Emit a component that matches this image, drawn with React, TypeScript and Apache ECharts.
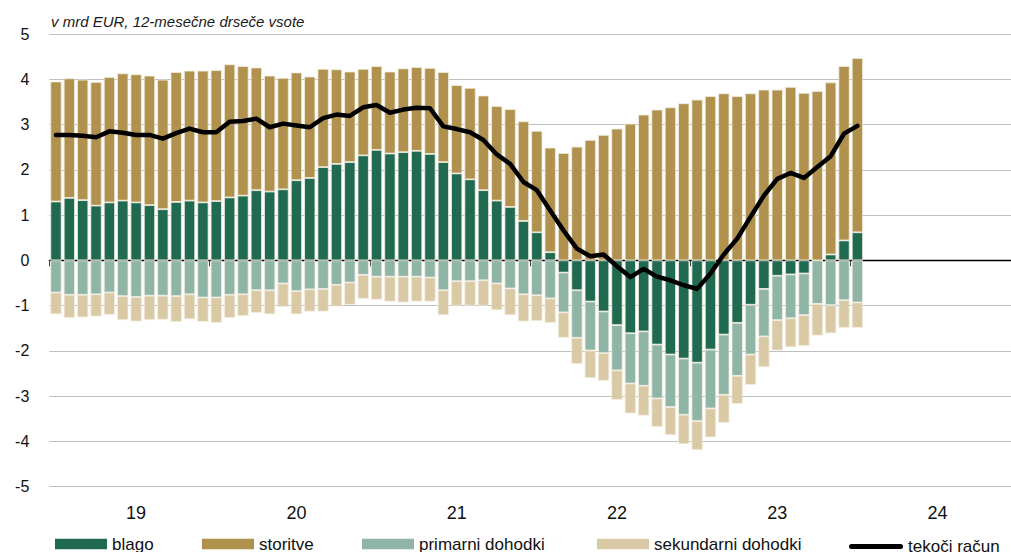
import React, { useEffect, useRef } from 'react';
import * as echarts from 'echarts';

const yearLabels = ['19', '20', '21', '22', '23', '24'];
const monthCodes = ['01', '02', '03', '04', '05', '06', '07', '08', '09', '10', '11', '12'];
const categories = yearLabels.flatMap((y) => monthCodes.map((m) => `20${y}-${m}`));

const blago = [
  1.30, 1.38, 1.33, 1.21, 1.28, 1.32, 1.28, 1.22, 1.13, 1.29, 1.32, 1.28,
  1.31, 1.39, 1.43, 1.55, 1.52, 1.57, 1.77, 1.82, 2.06, 2.13, 2.17, 2.32,
  2.44, 2.36, 2.39, 2.42, 2.35, 2.17, 1.92, 1.79, 1.55, 1.32, 1.18, 0.87,
  0.62, 0.18, -0.27, -0.66, -0.91, -1.13, -1.43, -1.61, -1.57, -1.86, -2.08, -2.17,
  -2.26, -1.97, -1.64, -1.38, -0.98, -0.63, -0.34, -0.31, -0.29, 0.0, 0.13, 0.44,
  0.62,
];
const storitve = [
  2.65, 2.64, 2.66, 2.73, 2.77, 2.81, 2.83, 2.86, 2.86, 2.87, 2.87, 2.91,
  2.89, 2.94, 2.86, 2.71, 2.56, 2.46, 2.38, 2.24, 2.17, 2.09, 2.00, 1.91,
  1.85, 1.81, 1.85, 1.85, 1.90, 1.99, 1.95, 2.02, 2.09, 2.09, 2.16, 2.20,
  2.24, 2.31, 2.37, 2.51, 2.66, 2.77, 2.91, 3.02, 3.22, 3.33, 3.38, 3.47,
  3.55, 3.63, 3.69, 3.63, 3.69, 3.77, 3.77, 3.83, 3.70, 3.74, 3.80, 3.85,
  3.85,
];
const primarni = [
  -0.71, -0.76, -0.76, -0.75, -0.71, -0.79, -0.81, -0.78, -0.78, -0.79, -0.75, -0.82,
  -0.82, -0.76, -0.75, -0.66, -0.66, -0.51, -0.68, -0.64, -0.63, -0.54, -0.49, -0.32,
  -0.36, -0.36, -0.36, -0.36, -0.38, -0.66, -0.46, -0.46, -0.44, -0.51, -0.62, -0.75,
  -0.77, -0.84, -0.88, -1.05, -1.08, -0.92, -1.00, -1.11, -1.20, -1.19, -1.16, -1.24,
  -1.29, -1.30, -1.33, -1.17, -1.10, -1.05, -0.98, -0.97, -0.92, -0.96, -0.99, -0.88,
  -0.93,
];
const sekundarni = [
  -0.48, -0.51, -0.50, -0.49, -0.49, -0.53, -0.54, -0.54, -0.53, -0.57, -0.55, -0.54,
  -0.56, -0.51, -0.48, -0.50, -0.53, -0.52, -0.51, -0.49, -0.50, -0.48, -0.49, -0.53,
  -0.51, -0.55, -0.57, -0.55, -0.53, -0.55, -0.54, -0.54, -0.56, -0.59, -0.59, -0.60,
  -0.57, -0.54, -0.56, -0.58, -0.61, -0.61, -0.65, -0.66, -0.66, -0.63, -0.62, -0.65,
  -0.64, -0.64, -0.62, -0.62, -0.67, -0.68, -0.67, -0.64, -0.68, -0.70, -0.62, -0.61,
  -0.56,
];
const tekociRacun = [
  2.77, 2.77, 2.75, 2.72, 2.85, 2.82, 2.77, 2.77, 2.69, 2.81, 2.91, 2.83,
  2.83, 3.06, 3.08, 3.13, 2.94, 3.02, 2.98, 2.94, 3.14, 3.22, 3.19, 3.38,
  3.43, 3.26, 3.33, 3.37, 3.36, 2.96, 2.90, 2.83, 2.66, 2.34, 2.13, 1.73,
  1.55, 1.10, 0.66, 0.26, 0.09, 0.13, -0.13, -0.37, -0.19, -0.36, -0.44, -0.55,
  -0.63, -0.29, 0.13, 0.48, 0.96, 1.43, 1.80, 1.93, 1.82, 2.06, 2.30, 2.80,
  2.97,
];

const seriesNames = ['blago', 'storitve', 'primarni dohodki', 'sekundarni dohodki', 'tekoči račun'];
const colors = ['#1f6a50', '#b0914e', '#8eb5a6', '#d9c9a4', '#000000'];
const legendLefts = [55, 202, 362, 597, 849];

const FONT = "'Liberation Sans', Arial, sans-serif";
const LINE_ICON = 'path://M2.5,0 H51.5 A2.5,2.5 0 0 1 51.5,5 H2.5 A2.5,2.5 0 0 1 2.5,0 Z';

export default function App() {
  const ref = useRef<HTMLDivElement>(null);

  useEffect(() => {
    document.body.style.margin = '0';
    if (!ref.current) return;
    const chart = echarts.init(ref.current, undefined, { renderer: 'svg' });

    const barData = [blago, storitve, primarni, sekundarni];
    const barSeries = barData.map((d, i) => ({
      name: seriesNames[i],
      type: 'bar',
      stack: 'total',
      data: d,
      xAxisIndex: 0,
      yAxisIndex: 0,
      barCategoryGap: '16%',
      itemStyle: { color: colors[i], borderColor: '#f3eee0', borderWidth: 0.8 },
      z: 2,
    }));

    const legends = seriesNames.map((n, i) => ({
      data: [n],
      left: legendLefts[i],
      top: i === 4 ? 538 : 535.5,
      padding: 0,
      itemGap: 0,
      itemWidth: i === 4 ? 54 : 52,
      itemHeight: i === 4 ? 5 : 10.5,
      icon: i === 4 ? LINE_ICON : 'rect',
      itemStyle: { color: colors[i], borderWidth: 0 },
      selectedMode: false,
      textStyle: { fontFamily: FONT, fontSize: 17, color: '#111' },
    }));

    chart.setOption({
      animation: false,
      color: colors,
      title: {
        text: 'v mrd EUR, 12-mesečne drseče vsote',
        left: 51,
        top: 14,
        padding: 0,
        textStyle: {
          fontFamily: FONT,
          fontStyle: 'italic',
          fontWeight: 'normal',
          fontSize: 15,
          color: '#1a1a1a',
        },
      },
      legend: legends,
      grid: { left: 49.3, right: -8.3, top: 34, bottom: 65.3, containLabel: false },
      xAxis: [
        {
          type: 'category',
          data: categories,
          position: 'bottom',
          boundaryGap: true,
          axisLine: { show: false, onZero: false },
          axisTick: { show: false },
          splitLine: { show: false },
          axisLabel: {
            interval: (index: number) => index % 12 === 6,
            formatter: (_v: string, index: number) => yearLabels[Math.floor(index / 12)],
            fontFamily: FONT,
            fontSize: 18,
            color: '#111',
            margin: 17,
          },
        },
        {
          type: 'category',
          data: categories,
          position: 'bottom',
          boundaryGap: true,
          axisLine: { show: true, onZero: true, lineStyle: { color: '#000', width: 1.3 } },
          axisTick: {
            show: true,
            interval: (index: number) => index % 12 === 0,
            length: 6,
            lineStyle: { color: '#444', width: 1 },
          },
          axisLabel: { show: false },
          splitLine: { show: false },
        },
      ],
      yAxis: {
        type: 'value',
        min: -5,
        max: 5,
        interval: 1,
        axisLine: { show: false },
        axisTick: { show: false },
        splitLine: { show: true, lineStyle: { color: '#bfbfbf', width: 1 } },
        axisLabel: { fontFamily: FONT, fontSize: 16, color: '#111', margin: 20 },
      },
      series: [
        ...barSeries,
        {
          name: seriesNames[4],
          type: 'line',
          data: tekociRacun,
          xAxisIndex: 0,
          yAxisIndex: 0,
          showSymbol: false,
          symbol: 'none',
          lineStyle: { color: '#000', width: 4.5, cap: 'round', join: 'round' },
          itemStyle: { color: '#000' },
          z: 5,
        },
      ],
    });

    return () => chart.dispose();
  }, []);

  return <div ref={ref} style={{ width: 1011, height: 552 }} />;
}
